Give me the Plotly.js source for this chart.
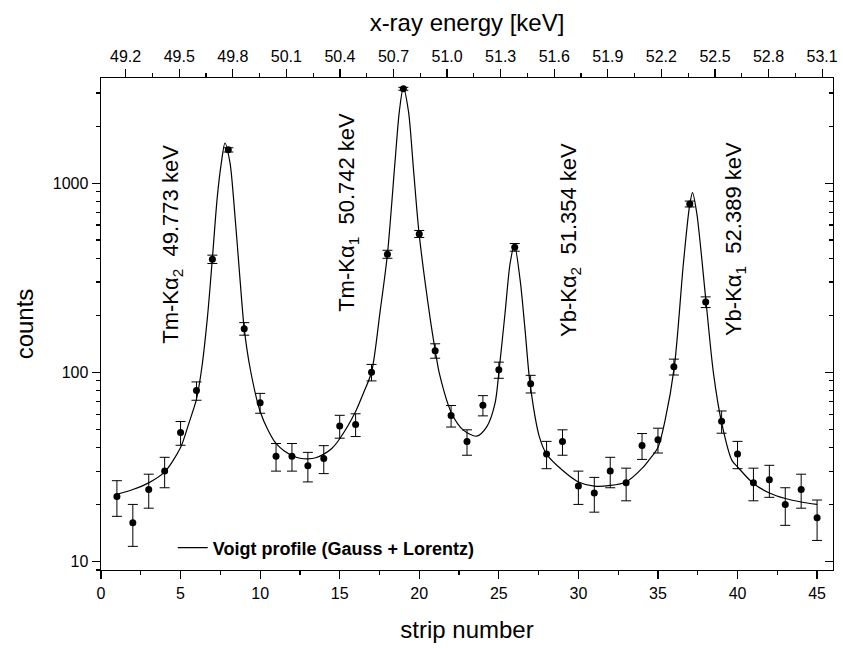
<!DOCTYPE html>
<html>
<head>
<meta charset="utf-8">
<script src="https://cdn.plot.ly/plotly-3.0.1.min.js"></script>
<style>html,body{margin:0;padding:0;background:#fff;}#chart{width:843px;height:649px;}</style>
</head>
<body>
<div id="chart"></div>
<script>
// measured data (strip number, counts, statistical error)
const strip = [1,2,3,4,5,6,7,8,9,10,11,12,13,14,15,16,17,18,19,20,21,22,23,24,25,26,27,28,29,30,31,32,33,34,35,36,37,38,39,40,41,42,43,44,45];
const counts = [22,16,24,30,48,80,396,1500,170,69,36,36,32,35,52,53,100,421,3155,539,130,59,43,67,103,458,87,37,43,25,23,30,26,41,44,107,776,235,55,37,26,27,20,24,17];
const errs = [4.7,4,4.9,5.5,6.9,8.9,20,39,13,8.3,6,6,5.7,5.9,7.2,7.3,10,20.5,56,23,11.4,7.7,6.6,8.2,10.1,21.4,9.3,6.1,6.6,5,4.8,5.5,5.1,6.4,6.6,10.3,27.9,15.3,7.4,6.1,5.1,5.2,4.5,4.9,4.1];

// fitted Voigt curve
const fitStrip = [1,2,3,4,5,5.5,6,6.33,6.7,7.0,7.31,7.56,7.79,8.11,8.32,8.74,9.0,9.37,10,10.5,11,11.5,12,12.5,13,13.5,14,14.5,15,16,16.5,17,17.54,18.0,18.48,18.75,19.0,19.32,19.63,19.99,20.68,21.0,21.27,22.04,22.77,23.6,24.24,24.76,25.02,25.39,25.71,25.98,26.34,26.65,26.96,27.55,28,29,30,31,32,33,34,34.4,35,35.45,36.03,36.6,36.98,37.17,37.44,38.01,38.49,39.01,39.64,40,41,42,43,44,45];
const fitCounts = [22.6,24.0,26.0,29.7,40,53,72,105,200,401,849,1276,1630,1276,849,307,170,105,62,49.4,42,38.4,36.3,35.1,34.8,35.3,36.9,39.5,44.5,62,78,100,210,421,1308,2404,3199,2404,1205,541,194,131,98,60.5,49.4,45.9,51.4,68.4,103,205,377,471,307,167,87.3,45.5,36.9,30.3,26.3,25.0,25.2,26.3,31,34,40,55.8,107,377,751,891,693,241,98.6,53.6,34.3,31.6,25.8,23.0,21.5,20.6,20.0];

// line labels
const lineLabels = ["Tm-K\u03b1<sub>2</sub>  49.773 keV","Tm-K\u03b1<sub>1</sub>  50.742 keV","Yb-K\u03b1<sub>2</sub>  51.354 keV","Yb-K\u03b1<sub>1</sub>  52.389 keV"];
const labelStrip = [4.46, 15.52, 29.48, 39.85];
const labelCounts = [478, 705, 501, 507];

// energy axis calibration (top axis range matching strip 0..46)
const energyRange = [49.062, 53.161];
const yTickVals = [10,100,1000];

const FONT = "Liberation Sans, Arial, sans-serif";
const minorVals = [9];
[10,100,1000].forEach(d => { for (let k=2;k<10;k++){ const v=k*d; if (v<=3600) minorVals.push(v);} });

const traces = [
  {
    x: fitStrip, y: fitCounts, type: 'scatter', mode: 'lines',
    line: {color: '#000', width: 1.2, shape: 'spline', smoothing: 0.8},
    name: 'Voigt profile (Gauss + Lorentz)', showlegend: true, hoverinfo: 'skip'
  },
  {
    x: strip, y: counts, type: 'scatter', mode: 'markers',
    marker: {color: '#000', size: 7, symbol: 'circle'},
    error_y: {type: 'data', array: errs, visible: true, color: '#000', thickness: 1, width: 5},
    showlegend: false
  },
  { x: [], y: [], xaxis: 'x2', yaxis: 'y2', type: 'scatter', showlegend: false }
];

const annotations = lineLabels.map((t, i) => ({
  text: t, x: labelStrip[i], y: Math.log10(labelCounts[i]), xref: 'x', yref: 'y',
  textangle: -90, showarrow: false, font: {family: FONT, size: 22, color: '#000'},
  xanchor: 'center', yanchor: 'middle'
}));

const layout = {
  width: 843, height: 649,
  margin: {l: 101, r: 10, t: 78, b: 79, pad: 0},
  paper_bgcolor: '#fff', plot_bgcolor: '#fff',
  font: {family: FONT, color: '#000', size: 16},
  showlegend: true,
  legend: {x: 0.098, y: 0.045, xanchor: 'left', yanchor: 'middle', bgcolor: 'rgba(0,0,0,0)',
           font: {family: FONT, size: 18, color: '#000', weight: 'bold'}},
  xaxis: {
    range: [0, 46], tick0: 0, dtick: 5, ticks: 'outside', ticklen: 8, tickwidth: 1.2, tickcolor: '#000',
    minor: {dtick: 2.5, tick0: 0, ticks: 'outside', ticklen: 4, tickwidth: 1.2, tickcolor: '#000'},
    showline: true, linecolor: '#000', linewidth: 1.4, showgrid: false, zeroline: false,
    tickfont: {family: FONT, size: 16},
    title: {text: 'strip number', font: {family: FONT, size: 24}, standoff: 20},
    automargin: false
  },
  xaxis2: {
    overlaying: 'x', side: 'top', anchor: 'y', range: energyRange, tick0: 49.2, dtick: 0.3, tickformat: '.1f',
    ticks: 'outside', ticklen: 8, tickwidth: 1.2, tickcolor: '#000',
    minor: {dtick: 0.15, tick0: 49.2, ticks: 'outside', ticklen: 4, tickwidth: 1.2, tickcolor: '#000'},
    showline: true, linecolor: '#000', linewidth: 1.4, showgrid: false, zeroline: false,
    tickfont: {family: FONT, size: 16},
    title: {text: 'x-ray energy [keV]', font: {family: FONT, size: 24}, standoff: 10},
    automargin: false
  },
  yaxis: {
    type: 'log', range: [Math.log10(9), 3.556], tickmode: 'array', tickvals: yTickVals, ticktext: yTickVals.map(String),
    ticks: 'outside', ticklen: 8, tickwidth: 1.2, tickcolor: '#000',
    minor: {tickmode: 'array', tickvals: minorVals, ticks: 'outside', ticklen: 4, tickwidth: 1.2, tickcolor: '#000'},
    showline: true, linecolor: '#000', linewidth: 1.4, showgrid: false, zeroline: false,
    tickfont: {family: FONT, size: 16},
    title: {text: 'counts', font: {family: FONT, size: 24}, standoff: 12},
    automargin: false
  },
  yaxis2: {
    type: 'log', overlaying: 'y', side: 'right', anchor: 'x', range: [Math.log10(9), 3.556],
    tickmode: 'array', tickvals: yTickVals, showticklabels: false,
    ticks: 'inside', ticklen: 8, tickwidth: 1.2, tickcolor: '#000',
    minor: {tickmode: 'array', tickvals: minorVals, ticks: 'inside', ticklen: 4, tickwidth: 1.2, tickcolor: '#000'},
    showline: true, linecolor: '#000', linewidth: 1.4, showgrid: false, zeroline: false
  },
  annotations: annotations
};

Plotly.newPlot('chart', traces, layout, {staticPlot: true, displayModeBar: false});
</script>
</body>
</html>
